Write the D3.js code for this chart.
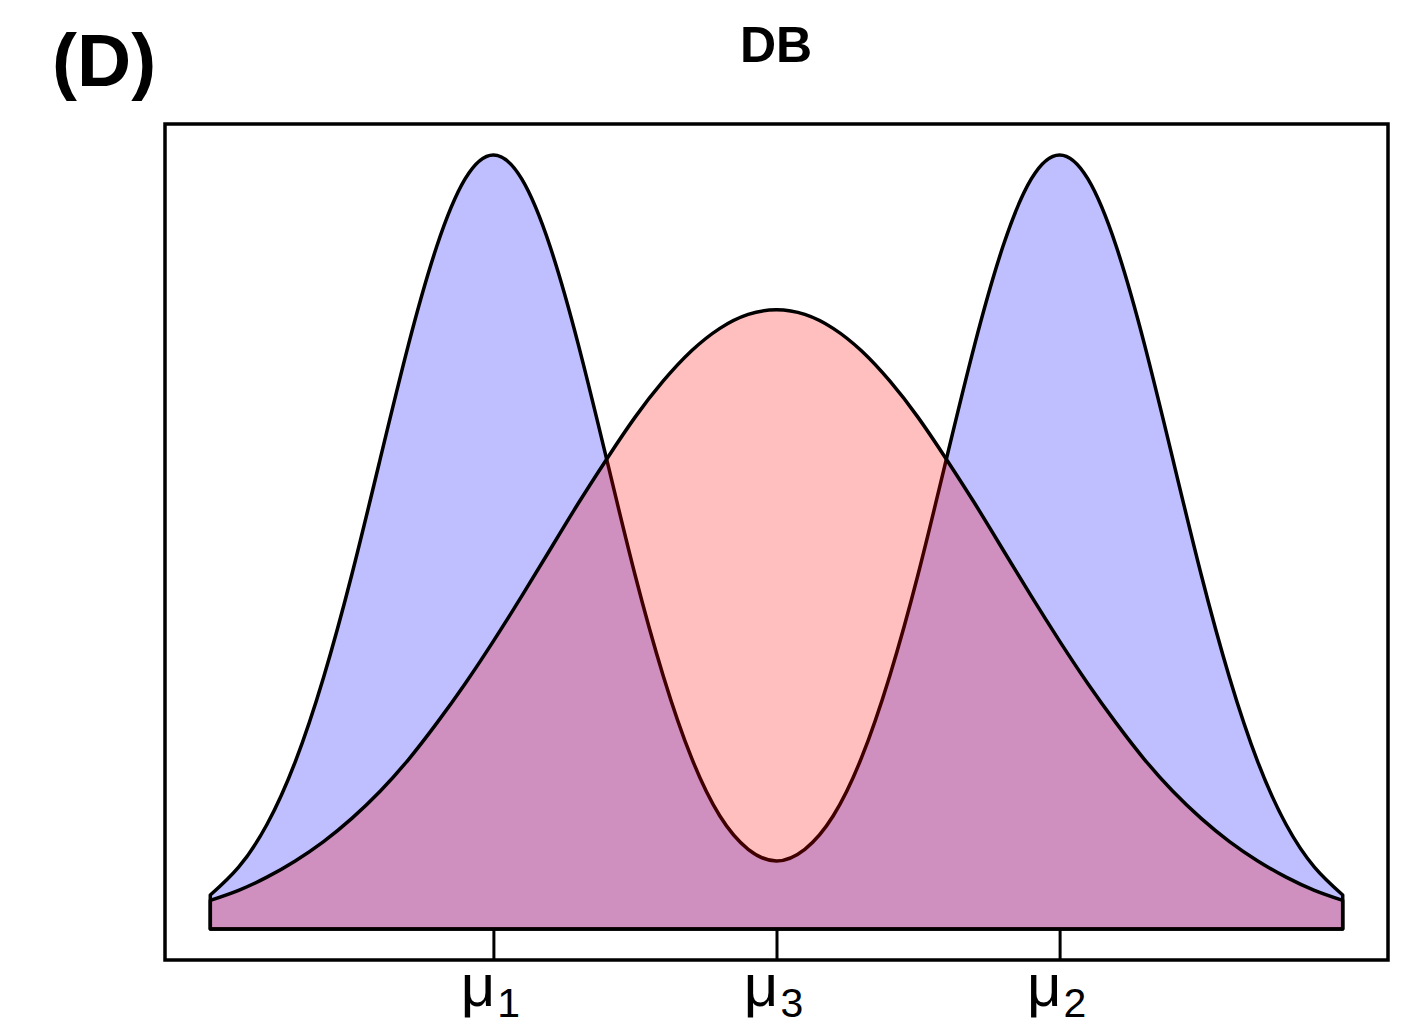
<!DOCTYPE html>
<html>
<head>
<meta charset="utf-8">
<script src="https://d3js.org/d3.v7.min.js"></script>
<style>
  body { margin: 0; background: #fff; }
  text { font-family: "Liberation Sans", Arial, sans-serif; }
</style>
</head>
<body>
<svg width="1409" height="1026"></svg>
<script>
var svg = d3.select("svg"),
  width = +svg.attr("width"),
  height = +svg.attr("height");

// x positions (units of the mean spacing)
var xs = [-2.0, -1.9, -1.8, -1.7, -1.6, -1.5, -1.4, -1.3, -1.2, -1.1, -1.0,
  -0.9, -0.8, -0.7, -0.6, -0.5, -0.4, -0.3, -0.2, -0.1, 0.0,
  0.1, 0.2, 0.3, 0.4, 0.5, 0.6, 0.7, 0.8, 0.9, 1.0,
  1.1, 1.2, 1.3, 1.4, 1.5, 1.6, 1.7, 1.8, 1.9, 2.0];

// blue bimodal density
var blueVals = [0.044, 0.080, 0.135, 0.216, 0.325, 0.458, 0.607, 0.755, 0.882, 0.969, 1.000,
  0.969, 0.882, 0.755, 0.607, 0.458, 0.327, 0.221, 0.146, 0.103, 0.088,
  0.103, 0.146, 0.221, 0.327, 0.458, 0.607, 0.755, 0.882, 0.969, 1.000,
  0.969, 0.882, 0.755, 0.607, 0.458, 0.325, 0.216, 0.135, 0.080, 0.044];

// red unimodal density
var redVals = [0.037, 0.050, 0.067, 0.088, 0.113, 0.143, 0.178, 0.219, 0.266, 0.317, 0.372,
  0.430, 0.490, 0.550, 0.607, 0.661, 0.708, 0.747, 0.776, 0.794, 0.800,
  0.794, 0.776, 0.747, 0.708, 0.661, 0.607, 0.550, 0.490, 0.430, 0.372,
  0.317, 0.266, 0.219, 0.178, 0.143, 0.113, 0.088, 0.067, 0.050, 0.037];

var tickVals = [-1, 0, 1];
var tickMain = ["\u03bc", "\u03bc", "\u03bc"];
var tickSub = ["1", "3", "2"];

var plotLeft = 165, plotRight = 1388, plotTop = 124, plotBottom = 960;

var x = d3.scaleLinear().domain([-2.16, 2.16]).range([plotLeft, plotRight]);
var y = d3.scaleLinear().domain([-0.04, 1.04]).range([plotBottom, plotTop]);

function areaFor(vals) {
  return d3.area()
    .x(function(d, i) { return x(xs[i]); })
    .y0(y(0))
    .y1(function(d) { return y(d); })
    .curve(d3.curveNatural)(vals);
}

svg.append("path")
  .attr("d", areaFor(blueVals))
  .attr("fill", "rgba(0,0,255,0.25)")
  .attr("stroke", "#000")
  .attr("stroke-width", 3.5)
  .attr("stroke-linejoin", "round");

svg.append("path")
  .attr("d", areaFor(redVals))
  .attr("fill", "rgba(255,0,0,0.25)")
  .attr("stroke", "#000")
  .attr("stroke-width", 3.5)
  .attr("stroke-linejoin", "round");

// frame
svg.append("rect")
  .attr("x", plotLeft).attr("y", plotTop)
  .attr("width", plotRight - plotLeft).attr("height", plotBottom - plotTop)
  .attr("fill", "none")
  .attr("stroke", "#000")
  .attr("stroke-width", 3.5);

// ticks (pointing up into the frame)
var axis = svg.append("g")
  .attr("transform", "translate(0," + plotBottom + ")")
  .call(d3.axisBottom(x).tickValues(tickVals).tickSize(-31).tickFormat(""));
axis.select(".domain").remove();
axis.selectAll(".tick line").attr("stroke", "#000").attr("stroke-width", 3);

var labels = svg.append("g")
  .selectAll("text")
  .data(tickVals)
  .enter().append("text")
  .attr("x", function(d) { return x(d) - 3; })
  .attr("y", 1006)
  .attr("text-anchor", "middle")
  .attr("font-size", 60)
  .attr("fill", "#000");
labels.append("tspan").text(function(d, i) { return tickMain[i]; });
labels.append("tspan")
  .attr("font-size", 41)
  .attr("dy", 11)
  .attr("dx", 2)
  .text(function(d, i) { return tickSub[i]; });

// title and panel letter
svg.append("text")
  .attr("x", 776).attr("y", 62)
  .attr("text-anchor", "middle")
  .attr("font-size", 50)
  .attr("font-weight", "bold")
  .text("DB");

svg.append("text")
  .attr("x", 52).attr("y", 86)
  .attr("font-size", 75)
  .attr("font-weight", "bold")
  .text("(D)");
</script>
</body>
</html>
